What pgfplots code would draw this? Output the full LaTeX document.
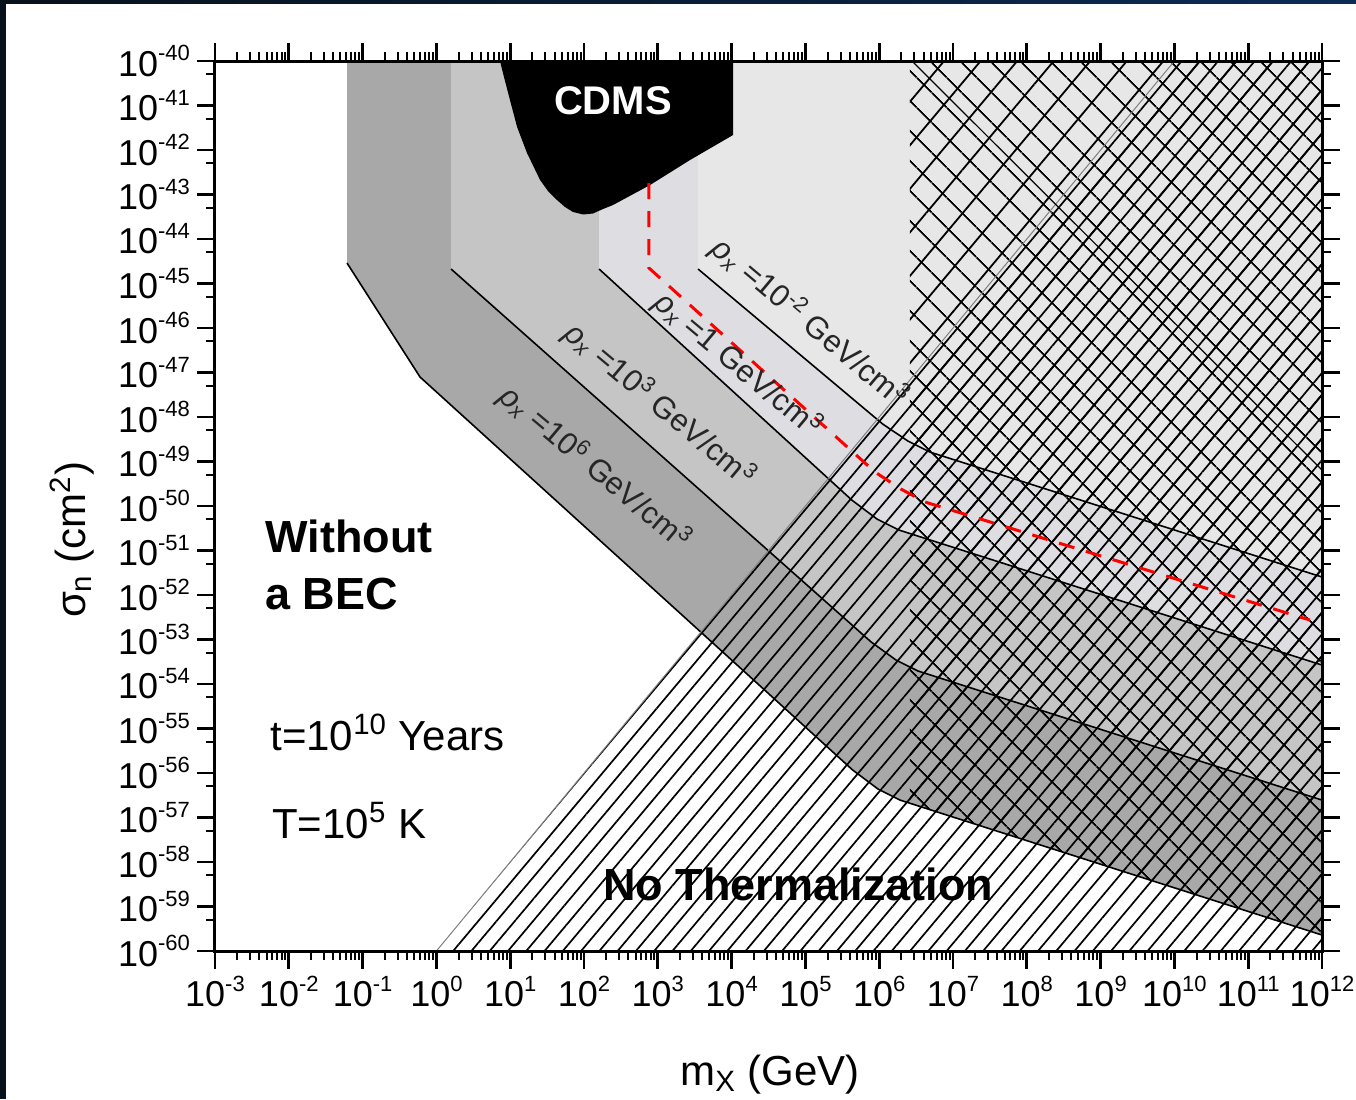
\documentclass[border=0pt]{standalone}
\usepackage{fontspec}
\setmainfont{Liberation Sans}
\usepackage{pgfplots}
\pgfplotsset{compat=1.18}
\usetikzlibrary{patterns.meta}

\definecolor{rhoA}{HTML}{A8A8A8}  % rho_x = 10^6
\definecolor{rhoB}{HTML}{C5C5C5}  % rho_x = 10^3
\definecolor{rhoC}{HTML}{DDDDE2}  % rho_x = 1
\definecolor{rhoD}{HTML}{E7E7E7}  % rho_x = 10^-2
\definecolor{frameL}{HTML}{07111B}
\definecolor{frameR}{HTML}{0B2B55}

% superscript for tick labels
\newcommand{\sps}[1]{\raisebox{0.42em}{\fontsize{11}{11}\selectfont #1}}
\newcommand{\rholab}[1]{{\itshape ρ\textsubscript{x}} =#1 GeV/cm\textsuperscript{3}}

\begin{document}
\begin{tikzpicture}[x=1pt,y=1pt]
% picture frame: 1px of the reference = 0.5pt
\path[use as bounding box] (-107.5,-74) rectangle (570.5,475.5);
\fill[left color=frameL, right color=frameR] (-107.5,473.5) rectangle (570.5,475.5);
\fill[frameL] (-107.5,-74) rectangle (-104.5,475.5);

\begin{axis}[
  at={(0,0)}, anchor=south west,
  scale only axis,
  width=553.5pt, height=445pt,
  xmode=log, ymode=log,
  xmin=1e-3, xmax=1e12,
  ymin=1e-60, ymax=1e-40,
  axis on top,
  axis line style={line width=1.5pt},
  tick align=outside, tick pos=both,
  major tick length=9pt, minor tick length=4.5pt,
  every major tick/.append style={line width=1.4pt, black},
  every minor tick/.append style={line width=1pt, black},
  tick label style={font=\fontsize{18}{20}\selectfont},
  xtick={1e-3,1e-2,1e-1,1,10,100,1e3,1e4,1e5,1e6,1e7,1e8,1e9,1e10,1e11,1e12},
  xticklabels={10\sps{-3},10\sps{-2},10\sps{-1},10\sps{0},10\sps{1},10\sps{2},10\sps{3},10\sps{4},10\sps{5},10\sps{6},10\sps{7},10\sps{8},10\sps{9},10\sps{10},10\sps{11},10\sps{12}},
  ytick={1e-60,1e-59,1e-58,1e-57,1e-56,1e-55,1e-54,1e-53,1e-52,1e-51,1e-50,1e-49,1e-48,1e-47,1e-46,1e-45,1e-44,1e-43,1e-42,1e-41,1e-40},
  yticklabels={10\sps{-60},10\sps{-59},10\sps{-58},10\sps{-57},10\sps{-56},10\sps{-55},10\sps{-54},10\sps{-53},10\sps{-52},10\sps{-51},10\sps{-50},10\sps{-49},10\sps{-48},10\sps{-47},10\sps{-46},10\sps{-45},10\sps{-44},10\sps{-43},10\sps{-42},10\sps{-41},10\sps{-40}},
  minor ytick={5e-60,5e-59,5e-58,5e-57,5e-56,5e-55,5e-54,5e-53,5e-52,5e-51,5e-50,5e-49,5e-48,5e-47,5e-46,5e-45,5e-44,5e-43,5e-42,5e-41},
  xlabel={m\textsubscript{X} (GeV)},
  xlabel style={font=\fontsize{21}{24}\selectfont, at={(rel axis cs:0.5014,-0.1506)}, anchor=base},
  ylabel={σ\textsubscript{n} (cm\textsuperscript{2})},
  ylabel style={font=\fontsize{21}{24}\selectfont, at={(rel axis cs:-0.129,0.462)}, anchor=center},
]

% shaded regions, darkest first
\addplot[draw=none, fill=rhoA] coordinates {(0.0615,1e-40) (0.0615,2.89e-45) (0.600,7.93e-48) (4.42e5,1.15e-56) (9.64e5,4.37e-57) (1.91e6,2.47e-57) (1e12,2.29e-60) (1e12,1e-40)} --cycle;
\addplot[draw=none, fill=rhoB] coordinates {(1.58,1e-40) (1.58,2.12e-45) (7.74e5,8.87e-54) (1.69e6,3.46e-54) (3.36e6,1.96e-54) (1e12,2.47e-57) (1e12,1e-40)} --cycle;
\addplot[draw=none, fill=rhoC] coordinates {(160,1e-40) (160,2.12e-45) (4.28e5,1.35e-50) (9.33e5,5.11e-51) (1.85e6,2.89e-51) (1e12,2.67e-54) (1e12,1e-40)} --cycle;
\addplot[draw=none, fill=rhoD] coordinates {(3510,1e-40) (3510,2.12e-45) (1.12e6,6.92e-49) (2.45e6,2.89e-49) (4.88e6,1.63e-49) (1e12,2.54e-52) (1e12,1e-40)} --cycle;

% CDMS excluded region
\addplot[draw=none, fill=black] coordinates {(7.28,1e-40) (7.98,5.37e-41) (9.93,1.33e-41) (12.4,3.29e-42) (16.9,8.57e-43) (25.4,2.12e-43) (32.5,1.20e-43) (43.1,7.52e-44) (55.3,5.24e-44) (71,4.05e-44) (96.9,3.56e-44) (132,3.74e-44) (181,4.72e-44) (247,5.81e-44) (783,1.63e-43) (2730,5.96e-43) (1.045e4,2.17e-42) (1.045e4,1e-40)} --cycle;

% cross-hatched region above 10^6.4 GeV
\addplot[draw=none, pattern={Lines[angle=50,distance=14pt,line width=0.9pt]}, pattern color=black] coordinates {(2.6e6,1e-40) (2.6e6,2.12e-57) (1e12,2.29e-60) (1e12,1e-40)} --cycle;
\addplot[draw=none, pattern={Lines[angle=-45,distance=10.5pt,line width=0.9pt]}, pattern color=black] coordinates {(2.6e6,1e-40) (2.6e6,2.12e-57) (1e12,2.29e-60) (1e12,1e-40)} --cycle;

% no thermalization
\addplot[draw=none, pattern={Lines[angle=50,distance=7pt,line width=0.85pt]}, pattern color=black] coordinates {(1,1e-60) (1e10,1e-40) (1e12,1e-40) (1e12,1e-60)} --cycle;

% boundaries
\addplot[black, line width=0.8pt] coordinates {(0.0615,2.89e-45) (0.600,7.93e-48) (4.42e5,1.15e-56) (9.64e5,4.37e-57) (1.91e6,2.47e-57) (1e12,2.29e-60)};
\addplot[black, line width=0.8pt] coordinates {(1.58,2.12e-45) (7.74e5,8.87e-54) (1.69e6,3.46e-54) (3.36e6,1.96e-54) (1e12,2.47e-57)};
\addplot[black, line width=0.8pt] coordinates {(160,2.12e-45) (4.28e5,1.35e-50) (9.33e5,5.11e-51) (1.85e6,2.89e-51) (1e12,2.67e-54)};
\addplot[black, line width=0.8pt] coordinates {(3510,2.12e-45) (1.12e6,6.92e-49) (2.45e6,2.89e-49) (4.88e6,1.63e-49) (1e12,2.54e-52)};
\addplot[gray, line width=0.5pt] coordinates {(1,1e-60) (1e10,1e-40)};
\addplot[black, line width=0.6pt] coordinates {(2.78e6,1e-40) (1e12,6.44e-50)};

% red dashed curve
\addplot[red, line width=1.5pt, dash pattern=on 8pt off 6pt] coordinates {(760,1.81e-43) (760,2.23e-45) (8.77e5,5.81e-50) (1.97e6,2.41e-50) (4.18e6,1.23e-50) (6.87e11,2.74e-53)};

% labels
\node[white, font=\bfseries\fontsize{20}{22}\selectfont] at (axis cs:247,1.26e-41) {CDMS};
\node[anchor=base west, font=\bfseries\fontsize{22.5}{24}\selectfont, inner sep=0pt] at (axis cs:4.77e-3,9.25e-52) {Without};
\node[anchor=base west, font=\bfseries\fontsize{22.5}{24}\selectfont, inner sep=0pt] at (axis cs:4.77e-3,4.84e-53) {a BEC};
\node[anchor=base west, font=\fontsize{21}{24}\selectfont, inner sep=0pt] at (axis cs:5.56e-3,3.29e-56) {t=10\textsuperscript{10} Years};
\node[anchor=base west, font=\fontsize{21}{24}\selectfont, inner sep=0pt] at (axis cs:5.91e-3,3.46e-58) {T=10\textsuperscript{5} K};
\node[anchor=base west, font=\bfseries\fontsize{22.5}{24}\selectfont, inner sep=0pt] at (axis cs:181,1.40e-59) {No Thermalization};
\node[rotate=-40, font=\fontsize{15.5}{17}\selectfont, text=black!85] at (axis cs:1.15e5,1.30e-46) {\rholab{10\textsuperscript{-2}}};
\node[rotate=-40, font=\fontsize{15.5}{17}\selectfont, text=black!85] at (axis cs:1.22e4,1.48e-47) {\rholab{1}};
\node[rotate=-40, font=\fontsize{15.5}{17}\selectfont, text=black!85] at (axis cs:1.07e3,1.86e-48) {\rholab{10\textsuperscript{3}}};
\node[rotate=-40, font=\fontsize{15.5}{17}\selectfont, text=black!85] at (axis cs:141,7.14e-50) {\rholab{10\textsuperscript{6}}};
\end{axis}
\end{tikzpicture}
\end{document}
